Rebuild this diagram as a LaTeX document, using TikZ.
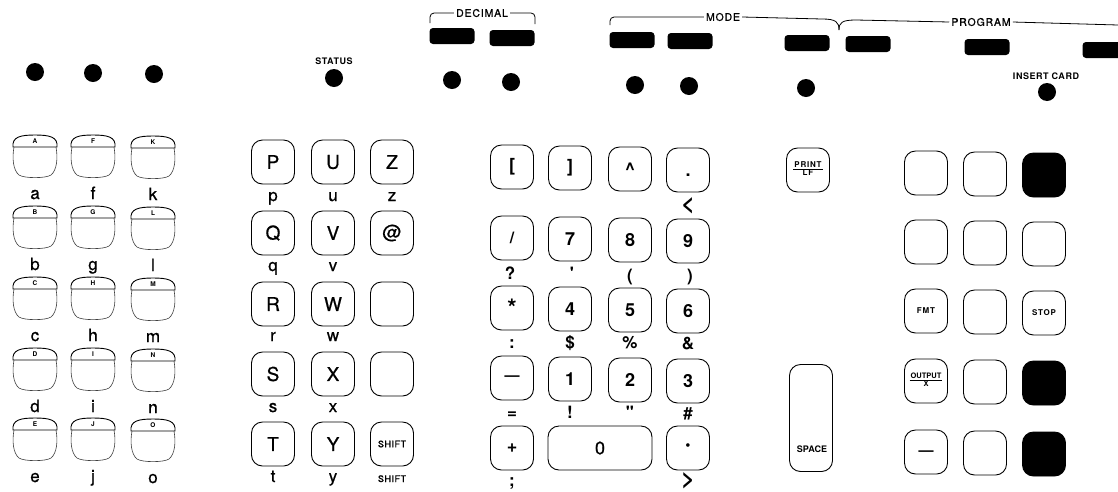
\documentclass[tikz,border=0pt]{standalone}
\usepackage{fontspec}
\setmainfont{TeX Gyre Heros}
\newfontfamily\medfont[FakeBold=0.7]{TeX Gyre Heros}
\newcommand\mkTabKey[5]{%
  \draw[tabedge] (#1-22,#2+12) .. controls (#1-23,#2+2) and (#1-15,#2) .. (#1,#2) .. controls (#1+15,#2) and (#1+23,#2+2) .. (#1+22,#2+12) -- cycle;
  \node[tabtxt] (tab#3) at (#1,#2+6.5) {#4};
  \draw[bodyedge] (#1-21,#2+12) .. controls (#1-23,#2+23) and (#1-22,#2+35) .. (#1-16,#2+40) .. controls (#1-11,#2+43.5) and (#1+11,#2+43.5) .. (#1+16,#2+40) .. controls (#1+22,#2+35) and (#1+23,#2+23) .. (#1+21,#2+12);
  \node[lowtxt] (low#3) at (#1,#2+64) {#5};
}
\begin{document}
\begin{tikzpicture}[x=1pt,y=-1pt,
  keybox/.style={draw, line width=0.9pt, rounded corners=11pt, minimum width=43pt, minimum height=44pt, inner sep=0pt},
  blackkey/.style={keybox, fill=black},
  lamp/.style={circle, fill=black, minimum size=18pt, inner sep=0pt},
  toprect/.style={fill=black, rounded corners=3.5pt, minimum width=45pt, minimum height=16pt, inner sep=0pt},
  bracket/.style={line width=0.8pt, rounded corners=4pt},
  hdr/.style={inner sep=2pt, font=\medfont\fontsize{10.5}{12}\selectfont\addfontfeatures{LetterSpace=8}},
  lamptxt/.style={inner sep=0pt, font=\bfseries\fontsize{9}{10}\selectfont\addfontfeatures{LetterSpace=6}},
  tabedge/.style={line width=0.9pt},
  bodyedge/.style={line width=0.6pt, black!75},
  tabtxt/.style={inner sep=0pt, font=\bfseries\fontsize{6.5}{6.5}\selectfont},
  lowtxt/.style={anchor=base, inner sep=0pt, font=\medfont\fontsize{17}{17}\selectfont},
  symtxt/.style={anchor=base, inner sep=0pt, font=\bfseries\fontsize{17}{17}\selectfont},
  captxt/.style={font=\medfont\fontsize{19}{19}\selectfont},
  numtxt/.style={font=\bfseries\fontsize{18}{18}\selectfont},
  smallkey/.style={font=\bfseries\fontsize{8}{8.5}\selectfont\addfontfeatures{LetterSpace=10}, align=center}
]
\fill[white] (0,0) rectangle (1118,491);
\useasboundingbox (0,0) rectangle (1118,491);

% ---------- top lamps ----------
\node[lamp] (l1) at (35,72) {};
\node[lamp] (l2) at (93,73) {};
\node[lamp] (l3) at (154,74) {};
\node[lamptxt] (tStatus) at (334,61) {STATUS};
\node[lamp] (lStatus) at (334,78) {};
\node[lamp] (lDec1) at (452,80) {};
\node[lamp] (lDec2) at (511,82) {};
\node[lamp] (lMode1) at (635,85) {};
\node[lamp] (lMode2) at (689,86) {};
\node[lamp] (lProg1) at (806,88) {};
\node[lamptxt] (tInsert) at (1046,76) {INSERT CARD};
\node[lamp] (lInsert) at (1047,92) {};

% ---------- top switches ----------
\node[toprect] (sDec1) at (452,36) {};
\node[toprect] (sDec2) at (512,38) {};
\node[toprect] (sMode1) at (632,40) {};
\node[toprect] (sMode2) at (690,41) {};
\node[toprect] (sProg1) at (807,43) {};
\node[toprect] (sProg2) at (868,44) {};
\node[toprect] (sProg3) at (987,47) {};
\node[toprect] (sProg4) at (1105,50) {};

% ---------- headers ----------
\node[hdr] (hDec) at (482,13) {DECIMAL};
\coordinate (decL) at (430,23);
\coordinate (decR) at (535,24);
\draw[bracket] (decL) |- (hDec.west);
\draw[bracket] (hDec.east) -| (decR);

\node[hdr] (hMode) at (723,17) {MODE};
\coordinate (modeL) at (610,25);
\draw[bracket] (modeL) |- (hMode.west);
\coordinate (braceTip) at (839,30);
\draw[line width=0.8pt] (hMode.east) -- (822,19) .. controls (836,19) and (839,22) .. (braceTip);
\node[hdr] (hProg) at (981,22) {PROGRAM};
\draw[line width=0.8pt] (braceTip) .. controls (839,22.5) and (842,20) .. (856,20) -- (hProg.west);
\coordinate (progR) at (1118,25);
\draw[line width=0.8pt] (hProg.east) -- (progR);

% ---------- left group (tab keys) ----------
\mkTabKey{35}{135}{A}{A}{a}
\mkTabKey{93}{135}{F}{F}{f}
\mkTabKey{153}{136}{K}{K}{k}
\mkTabKey{35}{206}{B}{B}{b}
\mkTabKey{93}{206}{G}{G}{g}
\mkTabKey{153}{207}{L}{L}{l}
\mkTabKey{35}{277}{C}{C}{c}
\mkTabKey{93}{277}{H}{H}{h}
\mkTabKey{153}{278}{M}{M}{m}
\mkTabKey{35}{348}{D}{D}{d}
\mkTabKey{93}{348}{I}{I}{i}
\mkTabKey{153}{349}{N}{N}{n}
\mkTabKey{35}{418}{E}{E}{e}
\mkTabKey{93}{418}{J}{J}{j}
\mkTabKey{153}{419}{O}{O}{o}

% ---------- letter group ----------
\node[keybox,captxt] (kP) at (273,162) {P};
\node[keybox,captxt] (kU) at (333,162) {U};
\node[keybox,captxt] (kZ) at (392,162) {Z};
\node[keybox,captxt] (kQ) at (273,233) {Q};
\node[keybox,captxt] (kV) at (333,233) {V};
\node[keybox,captxt] (kAt) at (392,233) {@};
\node[keybox,captxt] (kR) at (273,304) {R};
\node[keybox,captxt] (kW) at (333,304) {W};
\node[keybox] (kE1) at (392,304) {};
\node[keybox,captxt] (kS) at (273,374) {S};
\node[keybox,captxt] (kX) at (333,374) {X};
\node[keybox] (kE2) at (392,374) {};
\node[keybox,captxt] (kT) at (273,444) {T};
\node[keybox,captxt] (kY) at (333,444) {Y};
\node[keybox,font=\medfont\fontsize{9}{9}\selectfont\addfontfeatures{LetterSpace=6}] (kShift) at (392,444) {SHIFT};

\node[lowtxt] (lp) at (273,201) {p};
\node[lowtxt] (lu) at (333,201) {u};
\node[lowtxt] (lz) at (392,201) {z};
\node[lowtxt] (lq) at (273,271) {q};
\node[lowtxt] (lv) at (333,271) {v};
\node[lowtxt] (lr) at (273,341) {r};
\node[lowtxt] (lw) at (333,341) {w};
\node[lowtxt] (ls) at (273,412) {s};
\node[lowtxt] (lx) at (333,412) {x};
\node[lowtxt] (lt) at (273,482) {t};
\node[lowtxt] (ly) at (333,482) {y};
\node[anchor=base, inner sep=0pt, font=\medfont\fontsize{9}{9}\selectfont\addfontfeatures{LetterSpace=6}] (lShift) at (392,482) {SHIFT};

% ---------- numeric group ----------
\node[keybox,numtxt] (kLB) at (512,167) {[};
\node[keybox,numtxt] (kRB) at (570,168) {]};
\node[keybox,numtxt] (kCar) at (630,169) {\textasciicircum};
\node[keybox,numtxt] (kPer) at (688,170) {\vphantom{8}.};
\node[keybox,font=\bfseries\fontsize{16}{16}\selectfont] (kSl) at (512,238) {/};
\node[keybox,numtxt] (k7) at (570,239) {7};
\node[keybox,numtxt] (k8) at (630,240) {8};
\node[keybox,numtxt] (k9) at (688,241) {9};
\node[keybox,font=\bfseries\fontsize{24}{24}\selectfont] (kAst) at (512,308) {\raisebox{-6pt}{*}};
\node[keybox,numtxt] (k4) at (570,309) {4};
\node[keybox,numtxt] (k5) at (630,310) {5};
\node[keybox,numtxt] (k6) at (688,311) {6};
\node[keybox,font=\bfseries\fontsize{15}{15}\selectfont] (kMin) at (512,378) {—};
\node[keybox,numtxt] (k1) at (570,379) {1};
\node[keybox,numtxt] (k2) at (630,380) {2};
\node[keybox,numtxt] (k3) at (688,381) {3};
\node[keybox,numtxt] (kPlus) at (512,448) {+};
\node[keybox,minimum width=104pt,font=\medfont\fontsize{18}{18}\selectfont] (k0) at (600,448) {0};
\node[keybox,font=\bfseries\fontsize{24}{24}\selectfont] (kCdot) at (688,448) {·};

\node[anchor=base, inner sep=0pt, font=\bfseries\fontsize{23}{23}\selectfont] (sLt) at (688,211) {<};
\node[symtxt] (sQ) at (510,279) {?};
\node[symtxt] (sAp) at (572,279) {\textquotesingle};
\node[symtxt] (sLP) at (630,281) {(};
\node[symtxt] (sRP) at (690,281) {)};
\node[symtxt] (sCol) at (512,348) {:};
\node[symtxt] (sDol) at (570,348) {\$};
\node[symtxt] (sPct) at (630,348) {\%};
\node[symtxt] (sAmp) at (688,349) {\&};
\node[symtxt] (sEq) at (512,418) {=};
\node[symtxt] (sEx) at (570,418) {!};
\node[symtxt] (sQq) at (630,418) {\textquotedbl};
\node[symtxt] (sHash) at (688,419) {\#};
\node[symtxt] (sSemi) at (512,486) {;};
\node[anchor=base, inner sep=0pt, font=\bfseries\fontsize{23}{23}\selectfont] (sGt) at (688,486) {>};

% ---------- print / space ----------
\node[keybox,smallkey] (kPrint) at (808,170) {\setlength{\tabcolsep}{1pt}\setlength{\arrayrulewidth}{0.9pt}\begin{tabular}{c}PRINT\\[-1pt]\hline LF\end{tabular}};
\node[keybox,minimum height=107pt] (kSpace) at (811,418) {};
\node[inner sep=0pt, font=\bfseries\fontsize{9}{9}\selectfont] (tSpace) at (812,449) {SPACE};

% ---------- right group ----------
\node[keybox] (r11) at (926,173) {};
\node[keybox] (r12) at (985,174) {};
\node[blackkey] (r13) at (1044,175) {};
\node[keybox] (r21) at (926,242) {};
\node[keybox] (r22) at (985,243) {};
\node[keybox] (r23) at (1044,244) {};
\node[keybox,smallkey] (r31) at (926,311) {FMT};
\node[keybox] (r32) at (985,312) {};
\node[keybox,smallkey] (r33) at (1044,313) {STOP};
\node[keybox,font=\bfseries\fontsize{7.5}{8}\selectfont] (r41) at (926,381) {\setlength{\tabcolsep}{1pt}\setlength{\arrayrulewidth}{0.8pt}\begin{tabular}{c}OUTPUT\\[-1pt]\hline X\end{tabular}};
\node[keybox] (r42) at (985,382) {};
\node[blackkey] (r43) at (1044,383) {};
\node[keybox,font=\bfseries\fontsize{15}{15}\selectfont] (r51) at (926,452) {\raisebox{-6pt}{—}};
\node[keybox] (r52) at (985,453) {};
\node[blackkey] (r53) at (1044,454) {};
\end{tikzpicture}
\end{document}
